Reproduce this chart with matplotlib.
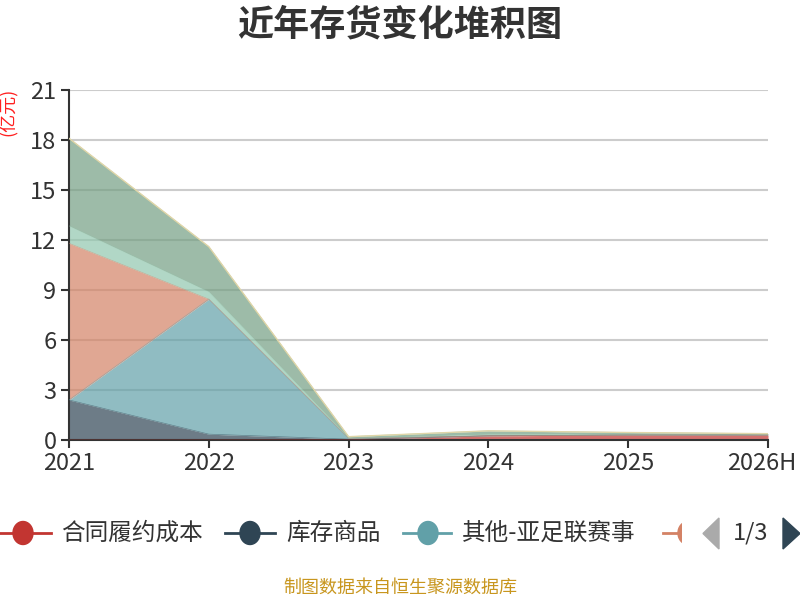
import matplotlib
matplotlib.use("Agg")
import matplotlib.pyplot as plt
from matplotlib.lines import Line2D
from matplotlib.patches import Polygon, Rectangle, Ellipse
import matplotlib.transforms as mtransforms
import numpy as np

plt.rcParams['font.family'] = ['Noto Sans CJK SC', 'DejaVu Sans']

years = ["2021", "2022", "2023", "2024", "2025", "2026H"]
series_names = ["合同履约成本", "库存商品", "其他-亚足联赛事", "其他", "其他2", "其他3"]
s_contract = [0.0, 0.0, 0.02, 0.25, 0.30, 0.30]
s_goods = [2.4, 0.35, 0.03, 0.0, 0.0, 0.0]
s_afc = [0.0, 8.1, 0.05, 0.0, 0.0, 0.0]
s_orange = [9.4, 0.0, 0.0, 0.0, 0.0, 0.0]
s_lightgreen = [1.05, 0.45, 0.02, 0.10, 0.05, 0.03]
s_green = [5.25, 2.7, 0.08, 0.20, 0.10, 0.05]
y_ticks = [0, 3, 6, 9, 12, 15, 18, 21]

colors = ["#c23531", "#2f4554", "#61a0a8", "#d48265", "#91c7ae", "#749f83"]
data = [s_contract, s_goods, s_afc, s_orange, s_lightgreen, s_green]

fig = plt.figure(figsize=(8, 6), dpi=100)
ax = fig.add_axes([69/800, 160/600, (768-69)/800, (440-90)/600])

x = np.arange(len(years))
base = np.zeros(len(years))
for vals, c in zip(data, colors):
    top = base + np.array(vals)
    ax.fill_between(x, base, top, color=c, alpha=0.7, linewidth=0, zorder=2)
    ax.plot(x, top, color=c, lw=0.5, alpha=0.5, zorder=3)
    base = top
ax.plot(x, base, color="#e0d6a8", lw=1.0, zorder=4)

ax.set_xlim(0, len(years) - 1)
ax.set_ylim(0, 21)
ax.set_yticks(y_ticks)
ax.set_xticks(x)
ax.set_xticklabels(years)
ax.grid(axis='y', color="#cccccc", lw=1.5, zorder=1)
ax.set_axisbelow(True)
for s in ["top", "right"]:
    ax.spines[s].set_visible(False)
for s in ["left", "bottom"]:
    ax.spines[s].set_color("#333333")
    ax.spines[s].set_linewidth(1.5)
ax.tick_params(axis='both', colors="#333333", labelsize=17, length=6, width=1.5)
ax.tick_params(axis='x', pad=3)
ax.tick_params(axis='y', pad=3)
last = ax.get_xticklabels()[-1]
last.set_transform(last.get_transform() + mtransforms.ScaledTranslation(-6/100, 0, fig.dpi_scale_trans))

fig.text(0.5, 1 - 25/600, "近年存货变化堆积图", ha="center", va="center",
         fontsize=26, fontweight="bold", color="#333333")
fig.text(8/800, 1 - 112/600, "(亿元)", rotation=90, ha="center", va="center",
         fontsize=13, color="#ff2020")
fig.text(0.5, 1 - 588/600, "制图数据来自恒生聚源数据库", ha="center", va="center",
         fontsize=13, color="#c8961e")

# legend overlay in pixel coordinates
ov = fig.add_axes([0, 0, 1, 1])
ov.set_xlim(0, 800)
ov.set_ylim(600, 0)
ov.axis("off")
ly = 533
clip = Rectangle((0, 500), 682, 70, transform=ov.transData)
items = [(0, 51, 23, 61), (225, 275, 250, 286), (403, 451, 428, 462), (663, 713, 688, 722)]
for i, ((x0, x1, cx, tx), c) in enumerate(zip(items, colors[:4])):
    ln = Line2D([x0, x1], [ly, ly], color=c, lw=2)
    ov.add_line(ln)
    circ = Ellipse((cx, ly), 20, 23, color=c)
    ov.add_patch(circ)
    ln.set_clip_path(clip)
    circ.set_clip_path(clip)
    if i < 3:
        ov.text(tx, ly, series_names[i], ha="left", va="center", fontsize=17, color="#333333")
ov.add_patch(Polygon([[719, 518], [719, 549], [703, 533.5]], closed=True, color="#aaaaaa"))
ov.text(751, ly, "1/3", ha="center", va="center", fontsize=17, color="#333333")
ov.add_patch(Polygon([[783, 518], [783, 549], [800, 533.5]], closed=True, color="#2f4554"))

fig.savefig("out.png", dpi=100)
